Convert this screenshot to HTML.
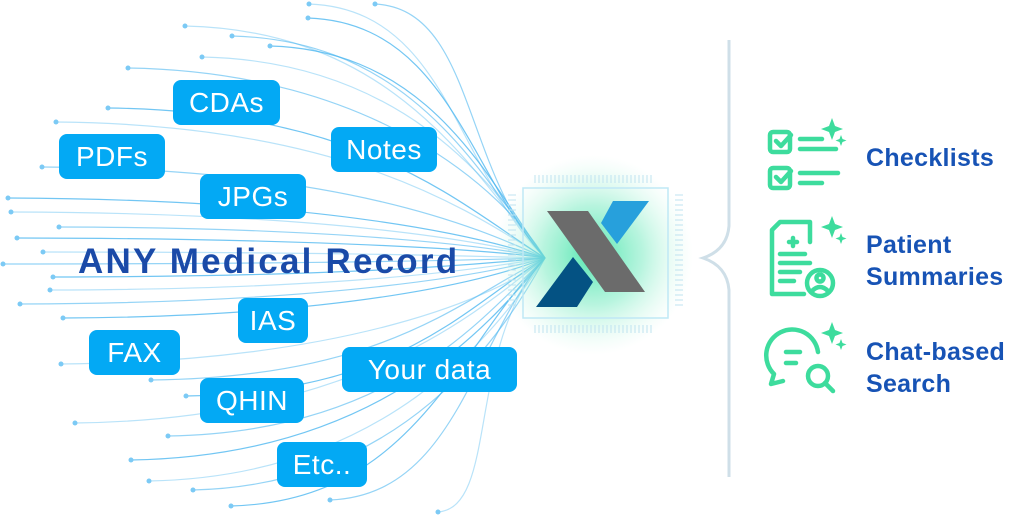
<!DOCTYPE html>
<html><head><meta charset="utf-8"><style>
html,body{margin:0;padding:0;background:#fff;}
#w{position:relative;width:1024px;height:517px;overflow:hidden;font-family:"Liberation Sans",sans-serif;}
.b{position:absolute;background:#03a9f4;color:#fff;border-radius:8px;font-size:28px;display:flex;align-items:center;justify-content:center;height:45px;letter-spacing:0.5px;}
.t{position:absolute;color:#1753b5;font-size:25px;line-height:32px;font-weight:bold;letter-spacing:0.3px;}
svg{position:absolute;left:0;top:0;}
</style></head><body><div id="w">
<svg width="1024" height="517" id="s">
<defs>
<radialGradient id="g" cx="0.5" cy="0.5" r="0.5">
<stop offset="0" stop-color="#3de4a6" stop-opacity="0.9"/>
<stop offset="0.5" stop-color="#7eecc4" stop-opacity="0.55"/>
<stop offset="1" stop-color="#c8f7e5" stop-opacity="0"/>
</radialGradient>
</defs>
<g id="lines" fill="none" stroke="#4fb8f0" stroke-width="1.2"></g>
<g id="dots" fill="#7ccaf5"></g>
<circle cx="593" cy="255" r="100" fill="url(#g)"/>
<rect x="523" y="188" width="145" height="130" fill="none" stroke="#bfe8f5" stroke-width="1.5"/>
<g stroke="#bfe3f0" stroke-width="1">
<path id="tk" d=""/>
</g>
<polygon points="547,211 588,211 645,292 605,292" fill="#6b6b6b"/>
<polygon points="613,201 649,201 617,244 601,223" fill="#27a0dc"/>
<polygon points="573,257 593,282 577,307 536,307" fill="#045283"/>
<path d="M729,40 L729,226 Q727,250 703,258 Q727,266 729,290 L729,477" fill="none" stroke="#cfdfe8" stroke-width="3"/>
<g stroke="#3ddc9d" stroke-width="4.5" fill="none" stroke-linecap="round" stroke-linejoin="round">
<rect x="770" y="132" width="20" height="20" rx="3"/>
<path d="M776,141 l5,5 l10,-11"/>
<path d="M800,139 h22 M800,149 h36"/>
<rect x="770" y="168" width="20" height="20" rx="3"/>
<path d="M776,177 l5,5 l10,-11"/>
<path d="M800,173 h38 M800,183 h22"/>
<path d="M772,230 v64 h32 M772,230 l8,-8 h30 v20"/>
<path d="M780,254 h25 M780,263 h30 M780,272 h20 M780,281 h14 M793,238 v8 M789,242 h8"/>
<circle cx="820" cy="283" r="13"/>
<circle cx="820" cy="278" r="3.5"/>
<path d="M812,291 q8,-8 16,0"/>
<path d="M818,352 a26,26 0 1 0 -44,22 l-3,10 l12,-3"/>
<path d="M786,352 h14 M786,363 h10"/>
<circle cx="818" cy="376" r="10"/>
<path d="M825,383 l8,8"/>
</g>
<g fill="#3ddc9d">
<path d="M832,118 l3,8 l8,3 l-8,3 l-3,8 l-3,-8 l-8,-3 l8,-3z"/>
<path d="M841,135 l1.5,4 l4,1.5 l-4,1.5 l-1.5,4 l-1.5,-4 l-4,-1.5 l4,-1.5z"/>
<path d="M832,216 l3,8 l8,3 l-8,3 l-3,8 l-3,-8 l-8,-3 l8,-3z"/>
<path d="M841,233 l1.5,4 l4,1.5 l-4,1.5 l-1.5,4 l-1.5,-4 l-4,-1.5 l4,-1.5z"/>
<path d="M832,322 l3,8 l8,3 l-8,3 l-3,8 l-3,-8 l-8,-3 l8,-3z"/>
<path d="M841,339 l1.5,4 l4,1.5 l-4,1.5 l-1.5,4 l-1.5,-4 l-4,-1.5 l4,-1.5z"/>
</g>
</svg>
<div class="b" style="left:173px;top:80px;width:107px;">CDAs</div>
<div class="b" style="left:59px;top:134px;width:106px;">PDFs</div>
<div class="b" style="left:331px;top:127px;width:106px;">Notes</div>
<div class="b" style="left:200px;top:174px;width:106px;">JPGs</div>
<div class="b" style="left:238px;top:298px;width:70px;">IAS</div>
<div class="b" style="left:89px;top:330px;width:91px;">FAX</div>
<div class="b" style="left:342px;top:347px;width:175px;">Your data</div>
<div class="b" style="left:200px;top:378px;width:104px;">QHIN</div>
<div class="b" style="left:277px;top:442px;width:90px;">Etc..</div>
<div style="position:absolute;left:78px;top:242px;font-size:35px;font-weight:bold;letter-spacing:2.2px;color:#1a4aa8;white-space:nowrap;">ANY Medical Record</div>
<div class="t" style="left:866px;top:142px;">Checklists</div>
<div class="t" style="left:866px;top:229px;">Patient<br>Summaries</div>
<div class="t" style="left:866px;top:336px;">Chat-based<br>Search</div>
</div>
<script>
var o=[[309,4],[375,4],[308,18],[185,26],[232,36],[270,46],[202,57],[128,68],[108,108],[56,122],[42,167],[8,198],[11,212],[59,227],[17,238],[43,252],[3,264],[53,277],[50,290],[20,304],[63,318],[61,364],[151,380],[186,396],[75,423],[168,436],[131,460],[149,481],[193,490],[231,506],[438,512],[330,500]];
var L=document.getElementById('lines'),D=document.getElementById('dots'),ns='http://www.w3.org/2000/svg',h='';
o.forEach(function(p,i){var x=p[0],y=p[1];var c1x=x+(540-x)*0.6,c1y=y+(258-y)*0.02;var c2x=455+((i*7)%50),c2y=258+(y-258)*0.35;
var e=document.createElementNS(ns,'path');e.setAttribute('d','M'+x+','+y+' C'+c1x+','+c1y+' '+c2x+','+c2y+' 545,258');e.setAttribute('stroke-opacity',(0.4+(i%3)*0.2).toFixed(2));L.appendChild(e);
var c=document.createElementNS(ns,'circle');c.setAttribute('cx',x);c.setAttribute('cy',y);c.setAttribute('r',2.5);D.appendChild(c);});
for(var x=535;x<652;x+=4){h+='M'+x+',175v8M'+x+',325v8';}
for(var y=195;y<310;y+=5){h+='M508,'+y+'h8M675,'+y+'h8';}
document.getElementById('tk').setAttribute('d',h);
</script>
</body></html>
